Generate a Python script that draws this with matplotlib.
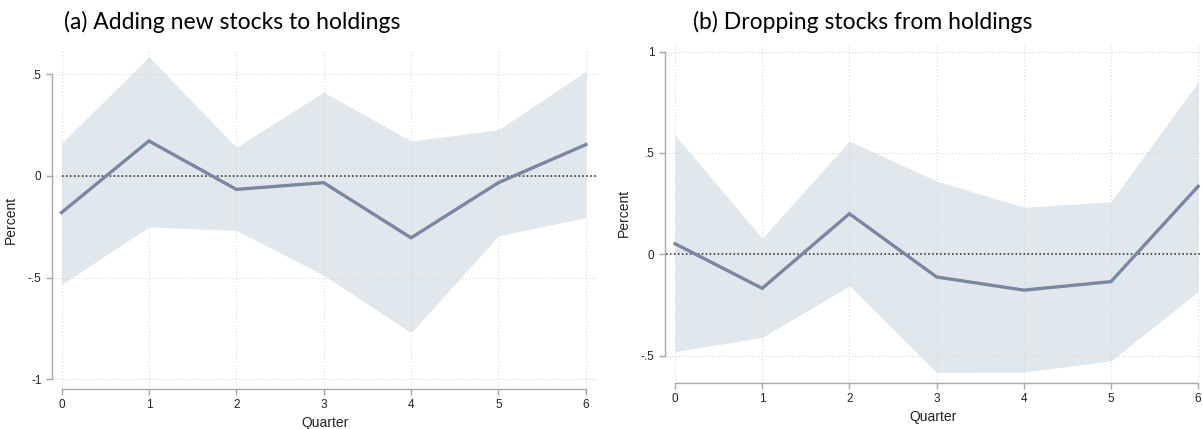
import numpy as np
import matplotlib.pyplot as plt

# data
quarters = [0, 1, 2, 3, 4, 5, 6]

add_est = [-0.18, 0.172, -0.066, -0.033, -0.304, -0.033, 0.154]
add_hi = [0.161, 0.585, 0.141, 0.412, 0.172, 0.227, 0.514]
add_lo = [-0.534, -0.25, -0.268, -0.488, -0.77, -0.294, -0.205]

drop_est = [0.052, -0.168, 0.20, -0.112, -0.177, -0.135, 0.335]
drop_hi = [0.588, 0.079, 0.558, 0.361, 0.232, 0.259, 0.85]
drop_lo = [-0.48, -0.41, -0.156, -0.583, -0.581, -0.526, -0.184]

add_yticks = [0.5, 0, -0.5, -1]
add_ylabels = ['.5', '0', '-.5', '-1']
drop_yticks = [1, 0.5, 0, -0.5]
drop_ylabels = ['1', '.5', '0', '-.5']

LINE = '#7888a0'
FILL = '#e1e8ed'
GREY = '#a8a8a8'
W, H = 1202, 429

plt.rcParams['font.family'] = ['Liberation Sans', 'DejaVu Sans']
fig = plt.figure(figsize=(W / 100, H / 100), dpi=100)


def make_ax(x0, y0, x1, y1):
    # pixel box -> figure fraction
    return fig.add_axes([x0 / W, 1 - y1 / H, (x1 - x0) / W, (y1 - y0) / H])


def panel(ax, est, lo, hi, yticks, ylabels, xlim, ylim, title, tx, zx0):
    ax.fill_between(quarters, lo, hi, color=FILL, lw=0, zorder=1)
    ax.plot([zx0, xlim[1]], [0, 0], color='#222222', lw=1.1, ls=(0, (1, 1.6)), zorder=2)
    ax.plot(quarters, est, color=LINE, lw=2.4, zorder=3, solid_joinstyle='miter')
    ax.set_xlim(*xlim)
    ax.set_ylim(*ylim)
    ax.set_xticks(quarters)
    ax.set_yticks(yticks)
    ax.set_yticklabels(ylabels)
    ax.grid(True, color='#d8d8d8', lw=0.8, ls=(0, (1, 2)), zorder=0)
    for s in ['top', 'right']:
        ax.spines[s].set_visible(False)
    for s in ['left', 'bottom']:
        ax.spines[s].set_color(GREY)
        ax.spines[s].set_linewidth(1.0)
    ax.spines['left'].set_bounds(min(yticks), max(yticks))
    ax.spines['bottom'].set_bounds(0, 6)
    ax.tick_params(colors=GREY, labelcolor='#222222', length=4, width=1.0, labelsize=8.5)
    ax.set_xlabel('Quarter', fontsize=10, color='#222222', labelpad=3)
    ax.set_ylabel('Percent', fontsize=10, color='#222222', labelpad=7)
    fig.text(tx / W, 1 - 22 / H, title, fontsize=16.5, family='Lato', va='center', ha='left')


ax1 = make_ax(52, 50, 598, 389)
panel(ax1, add_est, add_lo, add_hi, add_yticks, add_ylabels,
      (-0.109, 6.139), (-1.047, 0.619), '(a) Adding new stocks to holdings', 64, 0)

ax2 = make_ax(665, 43, 1202, 383)
panel(ax2, drop_est, drop_lo, drop_hi, drop_yticks, drop_ylabels,
      (-0.115, 6.044), (-0.635, 1.042), '(b) Dropping stocks from holdings', 693, -0.1)

fig.savefig('out.png', dpi=100)
